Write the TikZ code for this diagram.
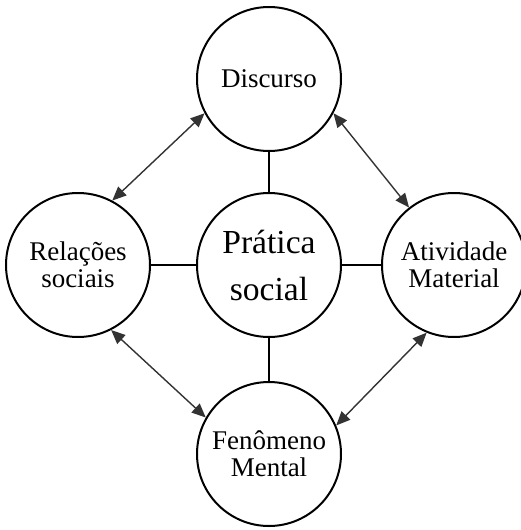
\documentclass[tikz,border=0pt]{standalone}
\usepackage{fontspec}
\setmainfont{Liberation Serif}
\usepackage{tikz}
\usetikzlibrary{arrows.meta,positioning}

\begin{document}
\begin{tikzpicture}[>={Triangle[length=7pt,width=6pt]},node distance=20pt,
  main node/.style={circle,draw,line width=1pt,minimum size=72pt,inner sep=0pt,align=center,
    font=\fontsize{13.5pt}{13.5pt}\selectfont},
  link/.style={-,line width=1pt},
  pair/.style={<->,line width=0.7pt,black!80}]
    \useasboundingbox (0,0) rectangle (260pt,-265pt);
    \node[main node,font=\fontsize{16.8pt}{23.5pt}\selectfont](pratica) at (134.5pt,-132.5pt){Prática\\social};
    \node[main node,above=20pt of pratica](disc){Discurso};
    \node[main node,left=22.5pt of pratica](relacoes){Relações\\sociais};
    \node[main node,right=19.5pt of pratica](atividade){Atividade\\Material};
    \node[main node,below=21.5pt of pratica](fenomeno){Fenômeno\\Mental};
    \path[link] (pratica) edge (disc)
          (pratica) edge (relacoes)
          (pratica) edge (atividade)
          (pratica) edge (fenomeno)
    ;
    \draw[pair] (disc.208) -- (relacoes.62);
    \draw[pair] (disc.-28) -- (atividade.128);
    \draw[pair] (relacoes.-63) -- (fenomeno.150);
    \draw[pair] (atividade.248) -- (fenomeno.23);

\end{tikzpicture}
\end{document}
